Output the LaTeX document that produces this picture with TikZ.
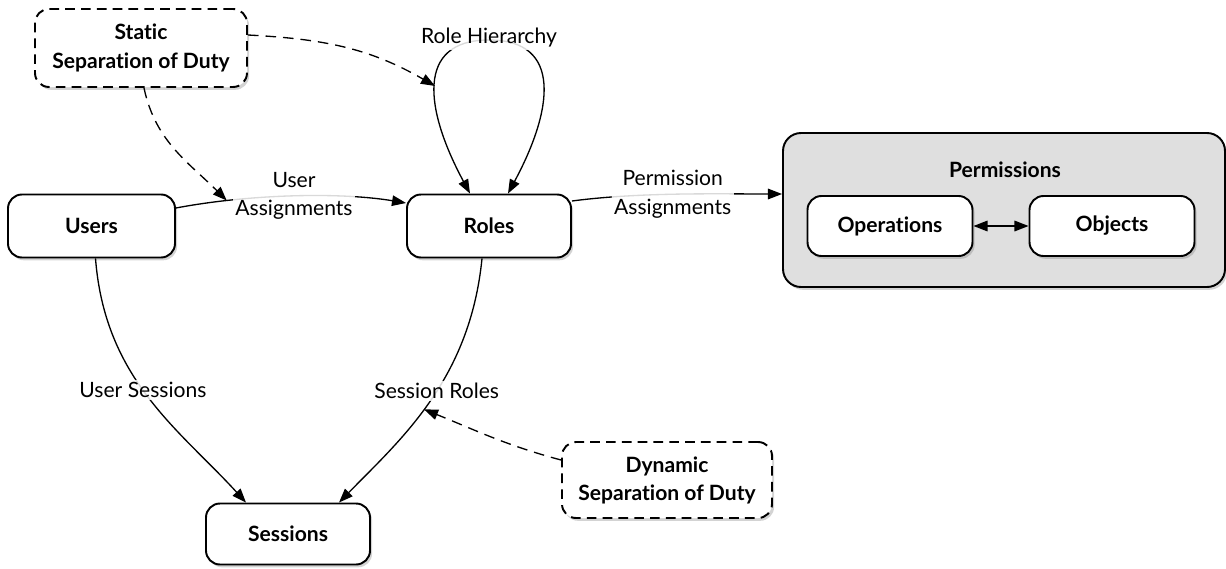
\documentclass[tikz,border=0pt]{standalone}
\usepackage{fontspec}
\setmainfont{Lato}[Ligatures={NoCommon,NoRare}]
\usetikzlibrary{arrows.meta,shadows,calc}
\newdimen\pxu \pxu=0.02cm
\begin{document}
\begin{tikzpicture}[x=\pxu,y=\pxu,
  shade/.style={drop shadow={shadow xshift=1.2pt, shadow yshift=-1.6pt, opacity=0.35}},
  box/.style={draw, line width=1.1pt, rounded corners=14\pxu, fill=white,
    font=\fontsize{12}{16}\selectfont\bfseries, align=center, inner sep=0pt, shade},
  dbox/.style={box, dash pattern=on 5.5pt off 3.5pt},
  lbl/.style={font=\fontsize{12}{16}\selectfont, fill=white, fill opacity=0.85,
    text opacity=1, inner sep=1.5pt, align=center},
  tip/.tip={Triangle[length=8pt,width=6pt]},
  conn/.style={line width=0.75pt, -tip},
  dconn/.style={conn, dash pattern=on 6pt off 4pt},
]
\useasboundingbox (0,0) rectangle (1226,-568);

% permission group
\node[box, fill=gray!25, rounded corners=18\pxu, minimum width=442\pxu, minimum height=154\pxu] (perm) at (1004,-210) {};
\node[font=\fontsize{12}{16}\selectfont\bfseries] (permtitle) at (1005,-170) {Permissions};
\node[box, minimum width=165\pxu, minimum height=60\pxu] (ops) at (890,-226) {Operations};
\node[box, minimum width=165\pxu, minimum height=60\pxu] (objs) at (1112,-226) {Objects};
\draw[line width=0.9pt, tip-tip] (ops) -- (objs);

% main entities
\node[box, minimum width=167\pxu, minimum height=63\pxu] (users) at (91.5,-226) {Users};
\node[box, minimum width=164\pxu, minimum height=63\pxu] (roles) at (489,-226) {Roles};
\node[box, minimum width=164\pxu, minimum height=61\pxu] (sessions) at (288,-534) {Sessions};
\node[dbox, minimum width=212\pxu, minimum height=78\pxu] (ssd) at (141,-48) {Static\\Separation of Duty};
\node[dbox, minimum width=210\pxu, minimum height=76\pxu] (dsd) at (667,-480) {Dynamic\\Separation of Duty};

% assignments
\draw[conn] ($(users.east)+(0,18)$) .. controls (250,-194) and (340,-192) .. ($(roles.west)+(0,23)$)
  node[lbl, pos=0.5] {User\\Assignments} coordinate[pos=0.22] (ua);
\draw[conn] ($(roles.east)+(0,25)$) .. controls (640,-192) and (720,-194) .. ($(perm.west)+(0,16)$)
  node[lbl, pos=0.47] {Permission\\Assignments};

% role hierarchy loop
\draw[line width=0.75pt, tip-tip] ($(roles.north)+(-19,0)$) .. controls (425,-110) and (415,-40) .. (489,-40)
  .. controls (563,-40) and (553,-110) .. ($(roles.north)+(19,0)$);
\node[lbl] (rhlabel) at (489,-38) {Role Hierarchy};
\coordinate (rhl) at (435,-86);

% sessions
\draw[conn] ($(users.south)+(4,0)$) .. controls (105,-380) and (180,-430) .. ($(sessions.north)+(-42,0)$)
  node[lbl, pos=0.46] {User Sessions};
\draw[conn] ($(roles.south)+(-7,0)$) .. controls (470,-380) and (400,-440) .. ($(sessions.north)+(51,0)$)
  node[lbl, pos=0.45] {Session Roles} coordinate[pos=0.53] (sr);

% separation of duty constraints
\draw[dconn] ($(ssd.east)+(0,13)$) to[out=-3, in=150] (rhl);
\draw[dconn] ($(ssd.south)+(3,0)$) to[out=-78, in=135] (ua);
\draw[dconn] ($(dsd.west)+(0,20)$) to[out=165, in=-22] (sr);
\end{tikzpicture}
\end{document}
